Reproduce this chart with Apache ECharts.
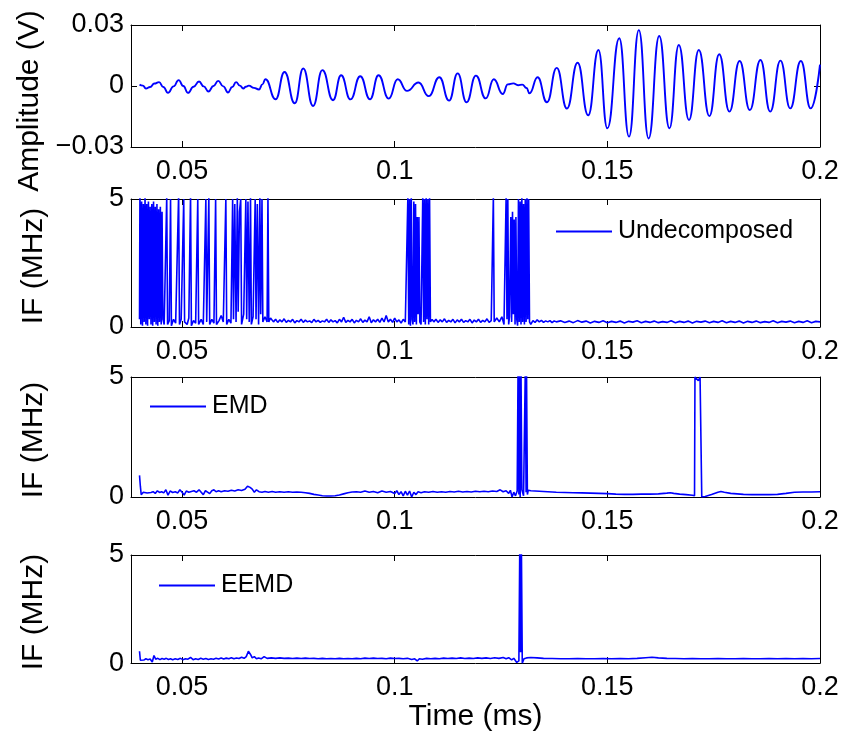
<!DOCTYPE html>
<html><head><meta charset="utf-8">
<script src="https://cdn.jsdelivr.net/npm/echarts@6/dist/echarts.min.js"></script>
<style>html,body{margin:0;padding:0;background:#fff}#c{width:843px;height:733px}</style>
</head><body><div id="c"></div><script>
// ---- data ----
const xTicks = [0.05, 0.1, 0.15, 0.2];
const xTickLabels = ['0.05', '0.1', '0.15', '0.2'];
const ampTicks = [-0.03, 0, 0.03];
const ampTickLabels = ['\u22120.03', '0', '0.03'];
const ifTicks = [0, 5];
const ifTickLabels = ['0', '5'];
const seriesNames = ['Undecomposed', 'EMD', 'EEMD'];
const yNames = ['Amplitude (V)', 'IF (MHz)', 'IF (MHz)', 'IF (MHz)'];
const xName = 'Time (ms)';

const amplitude = [
[0.0400,0.0007],[0.0408,0.0002],[0.0415,-0.0012],[0.0425,-0.0005],[0.0435,0.0012],[0.0446,0.0019],[0.0456,-0.0005],[0.0467,-0.0034],[0.0480,-0.0002],[0.0492,0.0029],[0.0503,0.0000],[0.0514,-0.0034],[0.0527,-0.0004],[0.0540,0.0022],[0.0551,-0.0002],[0.0562,-0.0027],[0.0574,0.0000],[0.0585,0.0025],[0.0597,-0.0002],[0.0608,-0.0032],[0.0618,-0.0005],[0.0627,0.0019],[0.0636,0.0002],[0.0644,-0.0012],[0.0650,-0.0004],[0.0657,0.0002],[0.0669,-0.0009],[0.0681,-0.0017],[0.0689,0.0008],[0.0696,0.0033],[0.0720,-0.0065],[0.0741,0.0069],[0.0765,-0.0085],[0.0785,0.0086],[0.0808,-0.0098],[0.0830,0.0078],[0.0855,-0.0070],[0.0874,0.0053],[0.0896,-0.0066],[0.0919,0.0048],[0.0942,-0.0065],[0.0962,0.0053],[0.0986,-0.0062],[0.1007,0.0033],[0.1029,-0.0024],[0.1056,0.0017],[0.1080,-0.0050],[0.1105,0.0043],[0.1128,-0.0072],[0.1148,0.0062],[0.1169,-0.0080],[0.1191,0.0051],[0.1214,-0.0061],[0.1233,0.0033],[0.1254,-0.0039],[0.1266,0.0008],[0.1279,0.0013],[0.1290,0.0004],[0.1300,0.0007],[0.1310,-0.0010],[0.1317,-0.0036],[0.1336,0.0043],[0.1358,-0.0080],[0.1381,0.0089],[0.1405,-0.0111],[0.1430,0.0114],[0.1455,-0.0144],[0.1479,0.0177],[0.1500,-0.0208],[0.1528,0.0235],[0.1551,-0.0249],[0.1574,0.0275],[0.1597,-0.0258],[0.1622,0.0246],[0.1646,-0.0208],[0.1668,0.0202],[0.1692,-0.0167],[0.1715,0.0177],[0.1740,-0.0148],[0.1763,0.0156],[0.1787,-0.0126],[0.1811,0.0123],[0.1835,-0.0118],[0.1860,0.0128],[0.1883,-0.0126],[0.1907,0.0125],[0.1930,-0.0110],[0.1955,0.0123],[0.1978,-0.0110],[0.2000,0.0105]
];

const ifUndecomposed = [
[0.0400,0.3],[0.0401,5.2],[0.0403,0.1],[0.0405,4.9],[0.0407,0.05],[0.0409,4.8],[0.0411,0.2],[0.0413,5.1],[0.0415,0.1],[0.0417,4.8],[0.0419,0.05],[0.0421,4.9],[0.0423,0.3],[0.0425,4.7],[0.0427,0.1],[0.0429,4.8],[0.0431,0.05],[0.0433,4.9],[0.0435,0.2],[0.0437,4.7],[0.0439,0.1],[0.0441,4.8],[0.0443,0.05],[0.0445,4.6],[0.0447,0.2],[0.0449,4.7],[0.0451,0.1],[0.0453,4.5],[0.0455,0.3],
[0.0458,0.1],[0.0464,5.1],[0.0466,0.1],[0.0470,0.25],[0.0473,5.0],[0.0475,0.05],[0.0480,0.3],[0.0485,0.15],[0.0492,5.2],[0.0494,0.1],[0.0498,0.3],[0.0504,5.0],[0.0506,0.2],[0.0512,0.1],[0.0516,0.35],[0.0520,5.2],[0.0522,0.05],[0.0527,0.25],[0.0532,0.15],[0.0537,5.0],[0.0539,0.1],[0.0545,0.3],[0.0550,0.1],[0.0556,5.0],[0.0558,0.2],[0.0563,5.1],[0.0565,0.1],[0.0570,0.3],[0.0575,0.15],[0.0579,5.0],[0.0581,0.1],[0.0587,0.25],[0.0592,0.45],[0.0597,0.2],[0.0603,5.0],[0.0605,0.1],[0.0610,0.3],[0.0615,0.15],[0.0619,5.0],[0.0621,0.3],[0.0624,4.8],[0.0627,0.2],[0.0630,5.1],[0.0632,0.6],[0.0635,4.5],[0.0638,5.0],[0.0640,0.1],[0.0645,0.5],[0.0650,5.0],[0.0652,0.3],[0.0655,4.9],[0.0658,0.2],[0.0661,5.1],[0.0663,0.1],[0.0667,0.4],[0.0672,5.0],[0.0674,0.3],[0.0677,4.8],[0.0680,0.1],[0.0683,5.1],[0.0685,0.5],[0.0688,5.0],[0.0690,0.2],[0.0695,0.4],[0.0700,0.2],[0.0702,5.1],[0.0704,0.2],[0.0708,0.35],
[0.0715,0.2],[0.0720,0.3],[0.0725,0.18],[0.0730,0.28],[0.0735,0.2],[0.0740,0.32],[0.0745,0.18],[0.0750,0.26],[0.0755,0.2],[0.0760,0.3],[0.0765,0.16],[0.0770,0.25],[0.0775,0.2],[0.0780,0.3],[0.0785,0.18],[0.0790,0.27],[0.0795,0.2],[0.0800,0.24],[0.0805,0.17],[0.0810,0.3],[0.0815,0.2],[0.0820,0.26],[0.0825,0.18],[0.0830,0.24],[0.0835,0.2],[0.0840,0.3],[0.0845,0.18],[0.0850,0.28],[0.0855,0.2],[0.0860,0.25],[0.0865,0.16],[0.0870,0.3],[0.0875,0.2],[0.0880,0.38],[0.0885,0.18],[0.0890,0.26],[0.0895,0.2],[0.0900,0.3],[0.0905,0.16],[0.0910,0.26],[0.0915,0.2],[0.0920,0.32],[0.0925,0.18],[0.0930,0.27],[0.0935,0.2],[0.0940,0.4],[0.0945,0.17],[0.0950,0.28],[0.0955,0.2],[0.0960,0.3],[0.0965,0.18],[0.0970,0.35],[0.0975,0.2],[0.0980,0.45],[0.0985,0.2],[0.0990,0.3],[0.0995,0.18],[0.1000,0.35],[0.1005,0.2],[0.1010,0.28],[0.1015,0.15],[0.1020,0.3],[0.1025,0.2],
[0.1029,0.2],[0.1031,5.1],[0.1033,0.1],[0.1035,5.0],[0.1037,0.05],[0.1039,5.1],[0.1041,0.3],[0.1043,0.1],[0.1045,4.9],[0.1047,0.2],[0.1049,4.8],[0.1051,0.1],[0.1053,4.3],[0.1055,0.5],[0.1057,4.3],[0.1059,0.2],[0.1062,0.1],[0.1066,5.1],[0.1068,0.2],[0.1070,5.0],[0.1072,0.1],[0.1074,5.1],[0.1076,0.3],[0.1078,5.0],[0.1080,0.1],[0.1082,5.1],[0.1084,0.2],[0.1088,0.3],
[0.1092,0.2],[0.1097,0.3],[0.1102,0.18],[0.1107,0.28],[0.1112,0.2],[0.1117,0.32],[0.1122,0.18],[0.1127,0.26],[0.1132,0.2],[0.1137,0.3],[0.1142,0.16],[0.1147,0.28],[0.1152,0.2],[0.1157,0.3],[0.1162,0.18],[0.1167,0.25],[0.1172,0.2],[0.1177,0.3],[0.1182,0.16],[0.1187,0.27],[0.1192,0.2],[0.1197,0.3],[0.1202,0.18],[0.1207,0.26],[0.1212,0.2],[0.1217,0.32],[0.1222,0.18],[0.1227,0.25],[0.1230,0.2],
[0.1232,5.1],[0.1234,0.2],[0.1240,0.35],[0.1246,0.2],[0.1252,0.4],[0.1257,0.1],[0.1262,5.1],[0.1264,0.3],[0.1266,5.0],[0.1268,0.1],[0.1270,0.4],[0.1273,4.3],[0.1275,0.2],[0.1277,4.5],[0.1279,0.5],[0.1281,4.2],[0.1283,0.1],[0.1285,4.3],[0.1287,0.3],[0.1289,0.05],[0.1291,5.0],[0.1293,0.2],[0.1295,4.9],[0.1297,0.1],[0.1299,5.1],[0.1301,0.2],[0.1303,4.8],[0.1305,0.1],[0.1307,5.0],[0.1309,0.2],[0.1311,5.1],[0.1313,0.3],[0.1315,5.0],[0.1317,0.2],[0.1320,0.1],
[0.1325,0.25],[0.1330,0.18],[0.1335,0.28],[0.1340,0.2],[0.1345,0.26],[0.1350,0.18],[0.1355,0.24],[0.1360,0.2],[0.1365,0.25],[0.1370,0.17],[0.1375,0.24],[0.1380,0.2],[0.139,0.24],[0.140,0.18],[0.141,0.23],[0.142,0.17],[0.143,0.25],[0.144,0.19],[0.145,0.23],[0.146,0.16],[0.147,0.22],[0.148,0.18],[0.149,0.24],[0.150,0.17],[0.151,0.22],[0.152,0.18],[0.153,0.23],[0.154,0.16],[0.155,0.22],[0.156,0.19],[0.157,0.24],[0.158,0.17],[0.159,0.22],[0.160,0.18],[0.161,0.23],[0.162,0.17],[0.163,0.21],[0.164,0.18],[0.165,0.24],[0.166,0.17],[0.167,0.22],[0.168,0.18],[0.169,0.23],[0.170,0.16],[0.171,0.22],[0.172,0.19],[0.173,0.23],[0.174,0.17],[0.175,0.22],[0.176,0.18],[0.177,0.24],[0.178,0.17],[0.179,0.22],[0.180,0.18],[0.181,0.23],[0.182,0.16],[0.183,0.22],[0.184,0.18],[0.185,0.23],[0.186,0.17],[0.187,0.21],[0.188,0.18],[0.189,0.24],[0.190,0.17],[0.191,0.22],[0.192,0.19],[0.193,0.23],[0.194,0.17],[0.195,0.22],[0.196,0.18],[0.197,0.24],[0.198,0.17],[0.199,0.22],[0.200,0.2]
];

const ifEMD = [
[0.0400,0.9],[0.0402,0.45],[0.0404,0.1],[0.0406,0.03],[0.0409,0.2],[0.0413,0.22],[0.0418,0.17],[0.0422,0.24],[0.0427,0.19],[0.0432,0.22],[0.0437,0.15],[0.0442,0.26],[0.0447,0.19],[0.0452,0.22],[0.0457,0.17],[0.0462,0.3],[0.0467,0.08],[0.0472,0.25],[0.0478,0.19],[0.0484,0.22],[0.0490,0.17],[0.0495,0.3],[0.0500,0.2],[0.0505,0.08],[0.0510,0.25],[0.0516,0.2],[0.0522,0.23],[0.0528,0.26],[0.0534,0.2],[0.0540,0.3],[0.0545,0.2],[0.0550,0.1],[0.0555,0.26],[0.0560,0.2],[0.0565,0.14],[0.0570,0.26],[0.0575,0.3],[0.0580,0.22],[0.0586,0.26],[0.0592,0.22],[0.0600,0.26],[0.0608,0.24],[0.0616,0.28],[0.0624,0.25],[0.0632,0.3],[0.0640,0.27],[0.0648,0.32],[0.0654,0.45],[0.0660,0.4],[0.0665,0.33],[0.0670,0.2],[0.0675,0.3],[0.0681,0.22],[0.0688,0.2],[0.0695,0.23],[0.0703,0.2],[0.0712,0.23],[0.0720,0.2],[0.0730,0.22],[0.0740,0.2],[0.0750,0.22],[0.0760,0.2],[0.0770,0.21],[0.0780,0.2],[0.0790,0.18],[0.0800,0.15],[0.0810,0.11],[0.0820,0.08],[0.0830,0.05],[0.0840,0.04],[0.0850,0.04],[0.0860,0.05],[0.0870,0.08],[0.0880,0.13],[0.0890,0.18],[0.0900,0.21],[0.0910,0.22],[0.0920,0.2],[0.0930,0.25],[0.0940,0.2],[0.0950,0.23],[0.0960,0.18],[0.0970,0.25],[0.0980,0.2],[0.0990,0.23],[0.1000,0.15],[0.1005,0.26],[0.1010,0.1],[0.1015,0.22],[0.1020,0.05],[0.1025,0.24],[0.1030,0.08],[0.1035,0.25],[0.1040,0.0],[0.1045,0.2],[0.1050,0.1],[0.1055,0.22],[0.1062,0.18],[0.1070,0.22],[0.1080,0.2],[0.1090,0.23],[0.1100,0.2],[0.1110,0.22],[0.1120,0.2],[0.1130,0.23],[0.1140,0.21],[0.1150,0.24],[0.1160,0.21],[0.1170,0.23],[0.1180,0.21],[0.1190,0.24],[0.1200,0.22],[0.1210,0.24],[0.1220,0.22],[0.1230,0.25],[0.1240,0.23],[0.1248,0.3],[0.1255,0.22],[0.1262,0.26],[0.1268,0.15],[0.1272,0.28],[0.1276,0.0],[0.1280,0.2],[0.1284,0.05],[0.1288,0.25],[0.1290,5.2],[0.1292,0.1],[0.1293,5.2],[0.1295,0.0],[0.1297,5.2],[0.1299,0.3],[0.1303,0.05],[0.1307,5.2],[0.1309,0.2],[0.1310,5.2],[0.1312,0.1],[0.1314,0.28],[0.1320,0.26],[0.1330,0.25],[0.1340,0.24],[0.1360,0.22],[0.1380,0.2],[0.1400,0.19],[0.1420,0.18],[0.1440,0.17],[0.1460,0.16],[0.1480,0.15],[0.1500,0.14],[0.1520,0.12],[0.1540,0.11],[0.1560,0.11],[0.1580,0.12],[0.1600,0.12],[0.1620,0.13],[0.1640,0.16],[0.1648,0.18],[0.1656,0.15],[0.1670,0.12],[0.1685,0.1],[0.1700,0.07],[0.1705,0.05],[0.1706,5.0],[0.1710,5.0],[0.1714,4.85],[0.1718,5.0],[0.1721,5.0],[0.1722,0.0],[0.1730,0.02],[0.1745,0.1],[0.1760,0.2],[0.1767,0.23],[0.1775,0.2],[0.1790,0.15],[0.1805,0.13],[0.1820,0.11],[0.1840,0.1],[0.1860,0.1],[0.1880,0.1],[0.1900,0.11],[0.1920,0.15],[0.1940,0.2],[0.1960,0.21],[0.1980,0.21],[0.2000,0.22]
];

const ifEEMD = [
[0.0400,0.55],[0.0402,0.13],[0.0406,0.18],[0.0410,0.14],[0.0415,0.2],[0.0420,0.16],[0.0425,0.19],[0.0430,0.05],[0.0434,0.35],[0.0438,0.18],[0.0443,0.22],[0.0448,0.16],[0.0453,0.21],[0.0458,0.18],[0.0463,0.22],[0.0468,0.17],[0.0473,0.2],[0.0478,0.16],[0.0484,0.2],[0.0490,0.17],[0.0496,0.22],[0.0502,0.16],[0.0508,0.2],[0.0514,0.18],[0.0520,0.26],[0.0526,0.16],[0.0532,0.2],[0.0538,0.17],[0.0544,0.22],[0.0550,0.18],[0.0556,0.21],[0.0562,0.17],[0.0568,0.2],[0.0574,0.18],[0.0580,0.22],[0.0586,0.19],[0.0592,0.24],[0.0598,0.19],[0.0604,0.23],[0.0610,0.2],[0.0616,0.25],[0.0622,0.2],[0.0628,0.24],[0.0634,0.21],[0.0640,0.27],[0.0646,0.22],[0.0651,0.3],[0.0656,0.55],[0.0661,0.4],[0.0665,0.24],[0.0670,0.3],[0.0675,0.2],[0.0680,0.24],[0.0686,0.2],[0.0693,0.3],[0.0700,0.22],[0.0710,0.24],[0.0720,0.22],[0.0730,0.24],[0.0740,0.22],[0.0750,0.23],[0.0760,0.21],[0.0770,0.23],[0.0780,0.21],[0.0790,0.23],[0.0800,0.21],[0.0810,0.22],[0.0820,0.2],[0.0830,0.22],[0.0840,0.2],[0.0850,0.21],[0.0860,0.2],[0.0870,0.22],[0.0880,0.2],[0.0890,0.21],[0.0900,0.2],[0.0910,0.22],[0.0920,0.2],[0.0930,0.23],[0.0940,0.21],[0.0950,0.23],[0.0960,0.21],[0.0970,0.22],[0.0980,0.2],[0.0990,0.23],[0.1000,0.21],[0.1010,0.22],[0.1020,0.2],[0.1030,0.22],[0.1040,0.17],[0.1047,0.2],[0.1053,0.1],[0.1058,0.2],[0.1065,0.18],[0.1075,0.22],[0.1085,0.2],[0.1095,0.22],[0.1105,0.2],[0.1115,0.23],[0.1125,0.21],[0.1135,0.23],[0.1145,0.21],[0.1155,0.24],[0.1165,0.21],[0.1175,0.23],[0.1185,0.21],[0.1195,0.24],[0.1205,0.22],[0.1215,0.24],[0.1225,0.21],[0.1235,0.25],[0.1245,0.22],[0.1255,0.26],[0.1262,0.2],[0.1268,0.25],[0.1275,0.15],[0.1280,0.22],[0.1287,0.03],[0.1292,0.1],[0.1294,5.2],[0.1296,0.5],[0.1298,5.2],[0.1300,0.0],[0.1304,0.2],[0.1310,0.24],[0.1320,0.26],[0.1335,0.24],[0.1350,0.22],[0.1370,0.21],[0.1390,0.2],[0.1410,0.2],[0.1430,0.21],[0.1450,0.2],[0.1470,0.2],[0.1490,0.21],[0.1510,0.2],[0.1530,0.21],[0.1550,0.2],[0.1570,0.22],[0.1590,0.25],[0.1605,0.27],[0.1620,0.24],[0.1640,0.22],[0.1660,0.21],[0.1680,0.2],[0.1700,0.21],[0.1720,0.2],[0.1740,0.2],[0.1760,0.21],[0.1780,0.2],[0.1800,0.2],[0.1820,0.21],[0.1840,0.2],[0.1860,0.2],[0.1880,0.21],[0.1900,0.2],[0.1920,0.21],[0.1940,0.2],[0.1960,0.21],[0.1980,0.2],[0.2000,0.21]
];

// ---- layout / style ----
const FONT = "'Liberation Sans', Arial, Helvetica, sans-serif";
const BLUE = '#0000ff';
const gridTops = [25, 199, 377, 555];
const gridHeights = [122, 128, 120, 117];
const GL = 131, GW = 689;
const XMIN = 0.038, XMAX = 0.2;
const TICK_FS = 27, NAME_FS = 30, LEG_FS = 25;

function labelFrom(ticks, labels) {
  return function (v) {
    for (let i = 0; i < ticks.length; i++) if (Math.abs(v - ticks[i]) < 1e-9) return labels[i];
    return '';
  };
}

const grids = [], xAxes = [], yAxes = [], series = [], legends = [];
const panelData = [amplitude, ifUndecomposed, ifEMD, ifEEMD];

for (let i = 0; i < 4; i++) {
  grids.push({ left: GL, top: gridTops[i], width: GW, height: gridHeights[i], containLabel: false });
  const isAmp = i === 0;
  const yT = isAmp ? ampTicks : ifTicks;
  const yL = isAmp ? ampTickLabels : ifTickLabels;
  xAxes.push({
    gridIndex: i, type: 'value', min: XMIN, max: XMAX, position: 'bottom',
    axisLine: { show: true, onZero: false, lineStyle: { color: '#000', width: 1 } },
    axisTick: { show: true, inside: true, length: 6, customValues: xTicks, lineStyle: { color: '#000' } },
    axisLabel: { show: true, customValues: xTicks, formatter: labelFrom(xTicks, xTickLabels), margin: 11,
      fontSize: TICK_FS, fontFamily: FONT, color: '#000', showMinLabel: true, showMaxLabel: true },
    splitLine: { show: false },
    name: i === 3 ? xName : '', nameLocation: 'middle', nameGap: 34,
    nameTextStyle: { fontSize: NAME_FS, fontFamily: FONT, color: '#000' }
  });
  xAxes.push({
    gridIndex: i, type: 'value', min: XMIN, max: XMAX, position: 'top',
    axisLine: { show: true, onZero: false, lineStyle: { color: '#000', width: 1 } },
    axisTick: { show: true, inside: true, length: 6, customValues: xTicks, lineStyle: { color: '#000' } },
    axisLabel: { show: false }, splitLine: { show: false }
  });
  yAxes.push({
    gridIndex: i, type: 'value', min: yT[0], max: yT[yT.length - 1], position: 'left',
    axisLine: { show: true, onZero: false, lineStyle: { color: '#000', width: 1 } },
    axisTick: { show: true, inside: true, length: 6, customValues: yT, lineStyle: { color: '#000' } },
    axisLabel: { show: true, customValues: yT, formatter: labelFrom(yT, yL), margin: 7,
      fontSize: TICK_FS, fontFamily: FONT, color: '#000', showMinLabel: true, showMaxLabel: true },
    splitLine: { show: false },
    name: yNames[i], nameLocation: 'middle', nameRotate: 90, nameGap: isAmp ? 86 : 82,
    nameTextStyle: { fontSize: NAME_FS, fontFamily: FONT, color: '#000', padding: isAmp ? [0, 30, 0, 0] : [0, 6, 0, 0] }
  });
  yAxes.push({
    gridIndex: i, type: 'value', min: yT[0], max: yT[yT.length - 1], position: 'right',
    axisLine: { show: true, onZero: false, lineStyle: { color: '#000', width: 1 } },
    axisTick: { show: true, inside: true, length: 6, customValues: yT, lineStyle: { color: '#000' } },
    axisLabel: { show: false }, splitLine: { show: false }
  });
  series.push({
    name: isAmp ? 'Signal' : seriesNames[i - 1],
    type: 'line', xAxisIndex: 2 * i, yAxisIndex: 2 * i, data: panelData[i],
    showSymbol: false, symbol: 'none', smooth: isAmp ? 0.5 : false, smoothMonotone: isAmp ? 'x' : undefined,
    clip: true, lineStyle: { color: BLUE, width: isAmp ? 1.9 : 1.6 }, itemStyle: { color: BLUE },
    animation: false, silent: true
  });
}

const legendPos = [[556, 219], [150, 394], [159, 573]];
for (let k = 0; k < 3; k++) {
  legends.push({
    data: [{ name: seriesNames[k], icon: 'rect' }], left: legendPos[k][0], top: legendPos[k][1], padding: 0,
    itemWidth: 56, itemHeight: 2, itemGap: 0,
    itemStyle: { color: BLUE, borderWidth: 0 },
    textStyle: { fontSize: LEG_FS, fontFamily: FONT, color: '#000', padding: [0, 0, 0, 1] },
    selectedMode: false
  });
}

const chart = echarts.init(document.getElementById('c'), null, { renderer: 'canvas' });
chart.setOption({
  backgroundColor: '#fff',
  animation: false,
  grid: grids, xAxis: xAxes, yAxis: yAxes, series: series, legend: legends
});
</script></body></html>
